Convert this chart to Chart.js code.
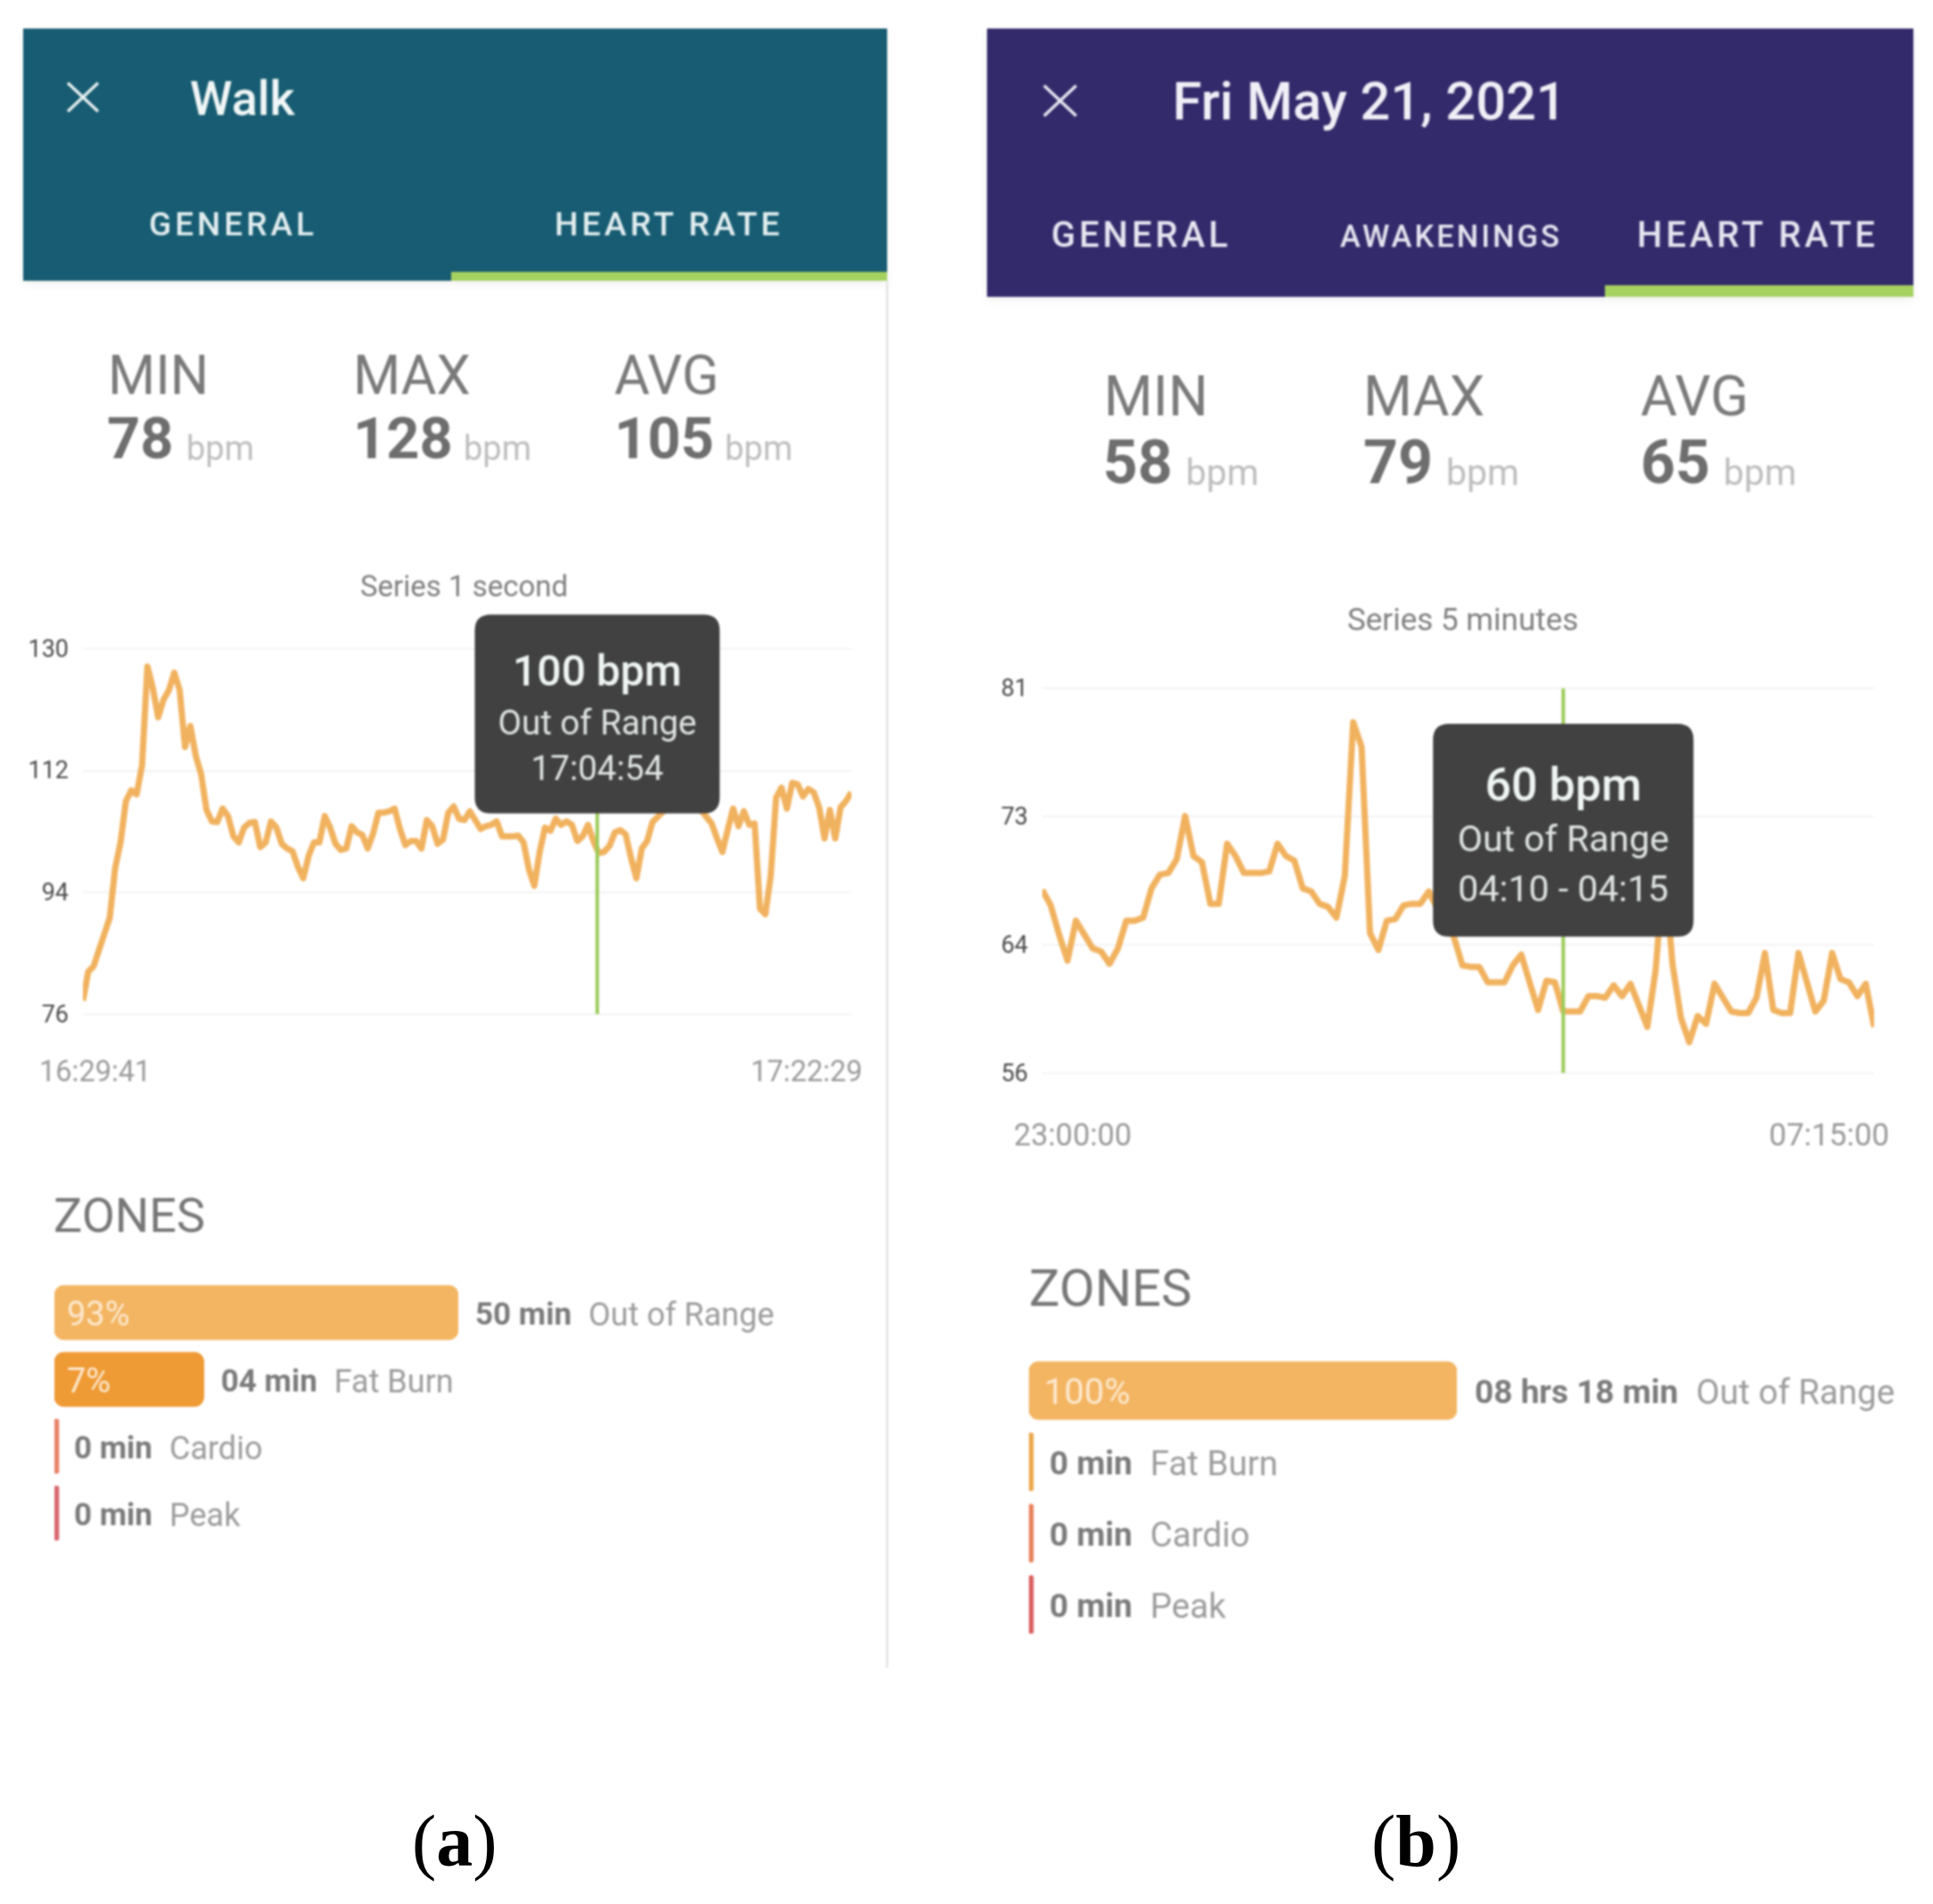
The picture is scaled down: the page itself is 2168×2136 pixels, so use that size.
<!DOCTYPE html>
<html>
<head>
<meta charset="utf-8">
<title>Heart rate screens</title>
<script src="https://cdn.jsdelivr.net/npm/chart.js"></script>
<style>
  html, body { margin: 0; padding: 0; background: #fff; }
  #page { position: relative; width: 2168px; height: 2136px; overflow: hidden; font-family: Roboto, sans-serif; }
  #panels { position: absolute; left: 0; top: 0; width: 2168px; height: 2136px; filter: blur(1px); }
  .box, .lbl, canvas, svg { position: absolute; }
  .lbl { white-space: nowrap; }
  .caption { position: absolute; font-family: "Liberation Serif", serif; font-size: 82px; color: #000; line-height: 1; white-space: nowrap; }
</style>
</head>
<body>
<div id="page">
  <div id="panels">
    <div class="box" style="left:26px;top:32px;width:969px;height:283px;background:#175c72;box-shadow:0 4px 10px rgba(0,0,0,.06)"></div>
    <div class="box" style="left:506px;top:305px;width:489px;height:10px;background:#a5d15f"></div>
    <div class="box" style="left:994px;top:315px;width:2px;height:1556px;background:#dedede"></div>
    <div class="box" style="left:1107px;top:32px;width:1039px;height:301px;background:#332a6b;box-shadow:0 4px 10px rgba(0,0,0,.06)"></div>
    <div class="box" style="left:1800px;top:320px;width:346px;height:13px;background:#a5d15f"></div>
    <svg style="left:74px;top:91px" width="38" height="36"><path d="M2 2L36 34M36 2L2 34" stroke="#e6eff0" stroke-width="3.5" fill="none"/></svg>
    <svg style="left:1169px;top:94px" width="40" height="38"><path d="M2 2L38 36M38 2L2 36" stroke="#e6e6f0" stroke-width="3.5" fill="none"/></svg>
  </div>
  <div class="caption" style="left:462px;top:2025px">(<b>a</b>)</div>
  <div class="caption" style="left:1538px;top:2025px">(<b>b</b>)</div>
</div>

<script>
// Panel (a): walk, samples read at even steps off the picture
const walkStepSeconds = 22.15;
const walkEndSeconds = 3168;
const walkBpm = [
  78, 82.3, 83.1, 85.5, 87.9, 90.3, 97.6, 101.4, 107.5, 109.1, 108.5, 112.8,
  127.4, 124.3, 119.9, 122.5, 123.9, 126.5, 123.9, 115.5, 118.6, 114.2, 111.5, 106.2,
  104.5, 104.4, 106.4, 105.3, 102.3, 101.4, 103.6, 104.3, 104.4, 100.7, 101.4, 104.5,
  103.6, 101.2, 100.5, 100.1, 97.8, 96.1, 99.4, 101.4, 101.4, 105.3, 103.6, 101.2,
  100.3, 100.5, 103.8, 102.9, 102.5, 100.5, 102.7, 105.8, 105.8, 106, 106.4, 103.4,
  101, 101.6, 101.6, 100.5, 104.7, 103.8, 101.2, 101.8, 105.8, 106.7, 104.9, 104.7,
  106, 104.7, 103.4, 103.8, 104, 104.5, 102.3, 102.3, 102.3, 102.4, 101.4, 97.4,
  95, 100, 103.6, 103.1, 104.9, 104, 104.5, 104, 101.6, 102.3, 104, 101.6,
  99.8, 100, 100.9, 102.9, 103.2, 102.6, 99.1, 96.1, 100.5, 101.6, 104.4, 105.2,
  106, 106.4, 107.1, 107.5, 107.5, 107.5, 107.1, 106.2, 105.2, 104.2, 102, 100,
  103.3, 106.4, 103.8, 106, 104, 104.2, 91.6, 90.8, 96.5, 108, 109.5, 106.4,
  110.2, 110, 108.2, 109.3, 108.8, 106.6, 102, 106.2, 102, 106.6, 107.5, 108.8
];
const walkYTicks = [76, 94, 112, 130];
const walkPinSeconds = 2120;
const walkPinIndex = 96;
const walkPinLines = ['Out of Range', '17:04:54'];
const walkZoneNames = ['Out of Range', 'Fat Burn', 'Cardio', 'Peak'];
const walkZonePercents = [93, 7, 0, 0];
const walkZoneTimes = ['50 min', '04 min', '0 min', '0 min'];

// Panel (b): sleep, 5 minute samples from 23:00 to 07:15
const sleepStepMinutes = 5;
const sleepEndMinutes = 495;
const sleepBpm = [
  67.9, 66.9, 65, 63.3, 65.9, 65, 64.1, 63.9, 63.1, 64.1, 65.9, 65.9,
  66.1, 68, 68.9, 69, 69.9, 72.7, 70.1, 69.7, 67, 67, 70.9, 70.1,
  69, 69, 69, 69.1, 70.9, 70.1, 69.8, 68, 67.8, 67,
  66.8, 66.1, 68.8, 78.8, 77.2, 65.1, 64, 65.9, 66, 66.9, 67, 67,
  67.8, 66.7, 66, 64.8, 63, 62.9, 62.9, 61.9, 61.9, 61.9, 63, 63.7,
  61.9, 60.1, 62, 61.9, 60, 60, 60, 61, 61,
  60.9, 61.7, 61, 61.8, 60.4, 59, 62.7, 69.6, 63.1, 59.6, 58, 59.7,
  59.2, 61.8, 60.9, 60, 59.9, 59.9, 60.9, 63.8, 60.1, 59.9, 59.9, 63.8,
  61.9, 60, 60.7, 63.8, 62.1, 61.9, 61, 61.8, 59
];
const sleepYTicks = [56, 64.33, 72.67, 81];
const sleepPinIndex = 62;
const sleepPinLines = ['Out of Range', '04:10 - 04:15'];
const sleepZoneNames = ['Out of Range', 'Fat Burn', 'Cardio', 'Peak'];
const sleepZonePercents = [100, 0, 0, 0];
const sleepZoneTimes = ['08 hrs 18 min', '0 min', '0 min', '0 min'];

// Static text of both screens: text, x, baseline, size, colour, weight, letter spacing
const screenLabels = [
  ['Walk', 213, 129, 54, '#f1f6f6', 500],
  ['GENERAL', 167, 264, 37, '#e3eef0', 500, 4],
  ['HEART RATE', 622, 264, 37.5, '#e3eef0', 500, 4],
  ['MIN', 121, 442, 61, '#7a7a7a'],
  ['MAX', 396, 442, 61, '#7a7a7a'],
  ['AVG', 689, 442, 61, '#7a7a7a'],
  ['78', 120, 514, 65, '#6e6e6e', 700],
  ['bpm', 209, 516, 38, '#bdbdbd'],
  ['128', 396, 514, 65, '#6e6e6e', 700],
  ['bpm', 520, 516, 38, '#bdbdbd'],
  ['105', 689, 514, 65, '#6e6e6e', 700],
  ['bpm', 813, 516, 38, '#bdbdbd'],
  ['Series 1 second', 404, 669, 33, '#808080'],
  ['16:29:41', 44, 1213, 32.5, '#9a9a9a'],
  ['17:22:29', 842, 1213, 32.5, '#9a9a9a'],
  ['ZONES', 60, 1382, 54, '#777777'],

  ['Fri May 21, 2021', 1315, 134, 59.5, '#f0eff6', 500],
  ['GENERAL', 1179, 277, 40, '#e6e5f0', 500, 4],
  ['AWAKENINGS', 1503, 277, 34.5, '#e6e5f0', 500, 3],
  ['HEART RATE', 1836, 277, 40, '#e6e5f0', 500, 4],
  ['MIN', 1238, 466, 63, '#7a7a7a'],
  ['MAX', 1529, 466, 63, '#7a7a7a'],
  ['AVG', 1840, 466, 63, '#7a7a7a'],
  ['58', 1237, 542, 68, '#6e6e6e', 700],
  ['bpm', 1330, 544, 41, '#bdbdbd'],
  ['79', 1529, 542, 68, '#6e6e6e', 700],
  ['bpm', 1622, 544, 41, '#bdbdbd'],
  ['65', 1840, 542, 68, '#6e6e6e', 700],
  ['bpm', 1933, 544, 41, '#bdbdbd'],
  ['Series 5 minutes', 1511, 707, 35, '#808080'],
  ['23:00:00', 1137, 1285, 34.3, '#9a9a9a'],
  ['07:15:00', 1984, 1285, 35, '#9a9a9a'],
  ['ZONES', 1154, 1465, 58, '#777777']
];

const panels = document.getElementById('panels');
const FONT = 'Roboto, sans-serif';
const ZONE_AXIS_MIN = 1.53;

screenLabels.forEach(([text, x, baseline, size, color, weight, spacing]) => {
  const el = document.createElement('div');
  el.className = 'lbl';
  el.textContent = text;
  // Roboto's ascent is 0.927em, so this puts the baseline where it was measured
  el.style.cssText += `left:${x}px;top:${baseline - 0.927 * size}px;font-size:${size}px;color:${color};` +
    `font-weight:${weight || 400};letter-spacing:${spacing || 0}px`;
  panels.appendChild(el);
});

function addCanvas(left, top, width, height) {
  const canvas = document.createElement('canvas');
  canvas.width = width;
  canvas.height = height;
  canvas.style.left = left + 'px';
  canvas.style.top = top + 'px';
  panels.appendChild(canvas);
  return canvas;
}

// Keeps the box at the pinned time, with its lower edge at a value on the y scale
Chart.Tooltip.positioners.pinned = function(items) {
  if (!items.length) return false;
  const chart = this.chart;
  const cfg = chart.options.pin;
  return {
    x: chart.scales.x.getPixelForValue(cfg.at),
    y: chart.scales.y.getPixelForValue(cfg.boxBottom)
  };
};

function heartRateChart(c) {
  const points = c.bpm.map((y, i) => ({ x: i * c.step, y: y }));
  const yMin = c.yTicks[0];
  const yMax = c.yTicks[c.yTicks.length - 1];
  const canvas = addCanvas(c.left, c.top, c.width, c.height);
  const chart = new Chart(canvas, {
    type: 'line',
    data: {
      datasets: [
        {
          data: [{ x: c.pinAt, y: yMin }, { x: c.pinAt, y: yMax }],
          borderColor: '#9ccb5a',
          borderWidth: 4,
          pointRadius: 0
        },
        {
          data: points,
          borderColor: '#f1b25f',
          borderWidth: 7,
          borderJoinStyle: 'round',
          pointRadius: 0,
          tension: 0
        }
      ]
    },
    options: {
      responsive: false,
      animation: false,
      events: [],
      pin: { at: c.pinAt, boxBottom: c.boxBottom },
      layout: { padding: c.padding },
      scales: {
        x: { type: 'linear', display: false, min: 0, max: c.xMax },
        y: {
          min: yMin,
          max: yMax,
          afterBuildTicks: (scale) => { scale.ticks = c.yTicks.map(v => ({ value: v })); },
          afterFit: (scale) => { scale.width = c.axisWidth; },
          border: { display: false },
          grid: { color: '#f3f3f3', lineWidth: 2, drawTicks: false },
          ticks: {
            padding: 16,
            labelOffset: 2,
            color: '#4a4a4a',
            font: { family: FONT, size: 27 },
            callback: (v) => String(Math.round(v))
          }
        }
      },
      plugins: {
        legend: { display: false },
        tooltip: {
          position: 'pinned',
          xAlign: 'center',
          yAlign: 'bottom',
          caretSize: 0,
          caretPadding: 0,
          cornerRadius: 18,
          displayColors: false,
          backgroundColor: '#414141',
          titleColor: '#eef5f3',
          bodyColor: '#dfe4e2',
          titleAlign: 'center',
          bodyAlign: 'center',
          titleFont: { family: FONT, size: c.titleSize, weight: '500' },
          bodyFont: { family: FONT, size: c.bodySize },
          titleMarginBottom: c.tipGaps[0],
          bodySpacing: c.tipGaps[1],
          padding: c.tipPadding,
          callbacks: {
            title: (items) => Math.round(items[0].parsed.y) + ' bpm',
            label: () => c.pinLines
          }
        }
      }
    }
  });
  chart.tooltip.setActiveElements([{ datasetIndex: 1, index: c.pinIndex }], { x: 0, y: 0 });
  chart.draw();
  return chart;
}

// Percent, time and zone name next to each bar
const zoneText = {
  id: 'zoneText',
  afterDatasetsDraw(chart) {
    const c = chart.options.zone;
    const ctx = chart.ctx;
    ctx.save();
    ctx.textBaseline = 'middle';
    chart.getDatasetMeta(0).data.forEach((bar, i) => {
      const textY = bar.y + c.textDrop;
      if (c.percents[i] > 0) {
        ctx.font = `${c.percentSize}px ${FONT}`;
        ctx.fillStyle = '#fce9cf';
        ctx.fillText(c.percents[i] + '%', chart.chartArea.left + c.percentInset, textY);
      }
      const timeX = bar.x + (c.percents[i] > 0 ? c.gap : c.gap - 2);
      ctx.font = `700 ${c.timeSize}px ${FONT}`;
      ctx.fillStyle = '#7b7b7b';
      ctx.fillText(c.times[i], timeX, textY);
      const nameX = timeX + ctx.measureText(c.times[i]).width + c.gap;
      ctx.font = `${c.nameSize}px ${FONT}`;
      ctx.fillStyle = '#9c9c9c';
      ctx.fillText(c.names[i], nameX, textY);
    });
    ctx.restore();
  }
};

function zoneChart(c) {
  const canvas = addCanvas(c.left, c.top, c.width, c.height);
  return new Chart(canvas, {
    type: 'bar',
    data: {
      labels: c.names,
      datasets: [{
        // A log scale drops 0, so empty zones sit on the axis floor and get minBarLength
        data: c.percents.map(p => p || ZONE_AXIS_MIN),
        base: ZONE_AXIS_MIN,
        backgroundColor: c.colors,
        barThickness: c.barHeight,
        minBarLength: 5,
        borderSkipped: false,
        borderRadius: (ctx) => (ctx.raw > ZONE_AXIS_MIN ? 11 : 2)
      }]
    },
    plugins: [zoneText],
    options: {
      indexAxis: 'y',
      responsive: false,
      animation: false,
      events: [],
      zone: c,
      layout: { padding: { right: c.width - c.barMaxWidth } },
      scales: {
        // The app does not draw bars in proportion: a log scale fits both widths
        x: { type: 'logarithmic', display: false, min: ZONE_AXIS_MIN, max: c.percents[0] },
        y: { display: false }
      },
      plugins: { legend: { display: false }, tooltip: { enabled: false } }
    }
  });
}

heartRateChart({
  bpm: walkBpm, step: walkStepSeconds, xMax: walkEndSeconds, yTicks: walkYTicks,
  pinAt: walkPinSeconds, pinIndex: walkPinIndex, pinLines: walkPinLines, boxBottom: 105.7,
  left: 26, top: 660, width: 964, height: 510, axisWidth: 67,
  padding: { top: 68, bottom: 32, right: 35 },
  titleSize: 48, bodySize: 38.5, tipGaps: [5, 5],
  tipPadding: { top: 39, bottom: 24, left: 26, right: 26 }
});

// The y axis keeps half a label plus tick padding free below the plot (32 px here)
heartRateChart({
  bpm: sleepBpm, step: sleepStepMinutes, xMax: sleepEndMinutes, yTicks: sleepYTicks,
  pinAt: sleepPinIndex * sleepStepMinutes, pinIndex: sleepPinIndex, pinLines: sleepPinLines, boxBottom: 64.86,
  left: 1107, top: 740, width: 1039, height: 496, axisWidth: 62,
  padding: { top: 30, bottom: 0, right: 44 },
  titleSize: 52, bodySize: 41, tipGaps: [4, 7],
  tipPadding: { top: 42, bottom: 25, left: 27.5, right: 27.5 }
});

zoneChart({
  names: walkZoneNames, percents: walkZonePercents, times: walkZoneTimes,
  colors: ['#f3b562', '#ee9a35', '#e8836a', '#d9696f'],
  left: 61, top: 1435, width: 930, height: 300, barHeight: 61, barMaxWidth: 453, textDrop: 5,
  gap: 19, percentInset: 14, percentSize: 38, timeSize: 35, nameSize: 36
});

zoneChart({
  names: sleepZoneNames, percents: sleepZonePercents, times: sleepZoneTimes,
  colors: ['#f3b562', '#eba94e', '#e8825e', '#d9605f'],
  left: 1154, top: 1520, width: 992, height: 320, barHeight: 65, barMaxWidth: 480, textDrop: 5,
  gap: 20, percentInset: 17, percentSize: 40, timeSize: 37, nameSize: 38.5
});
</script>
</body>
</html>
